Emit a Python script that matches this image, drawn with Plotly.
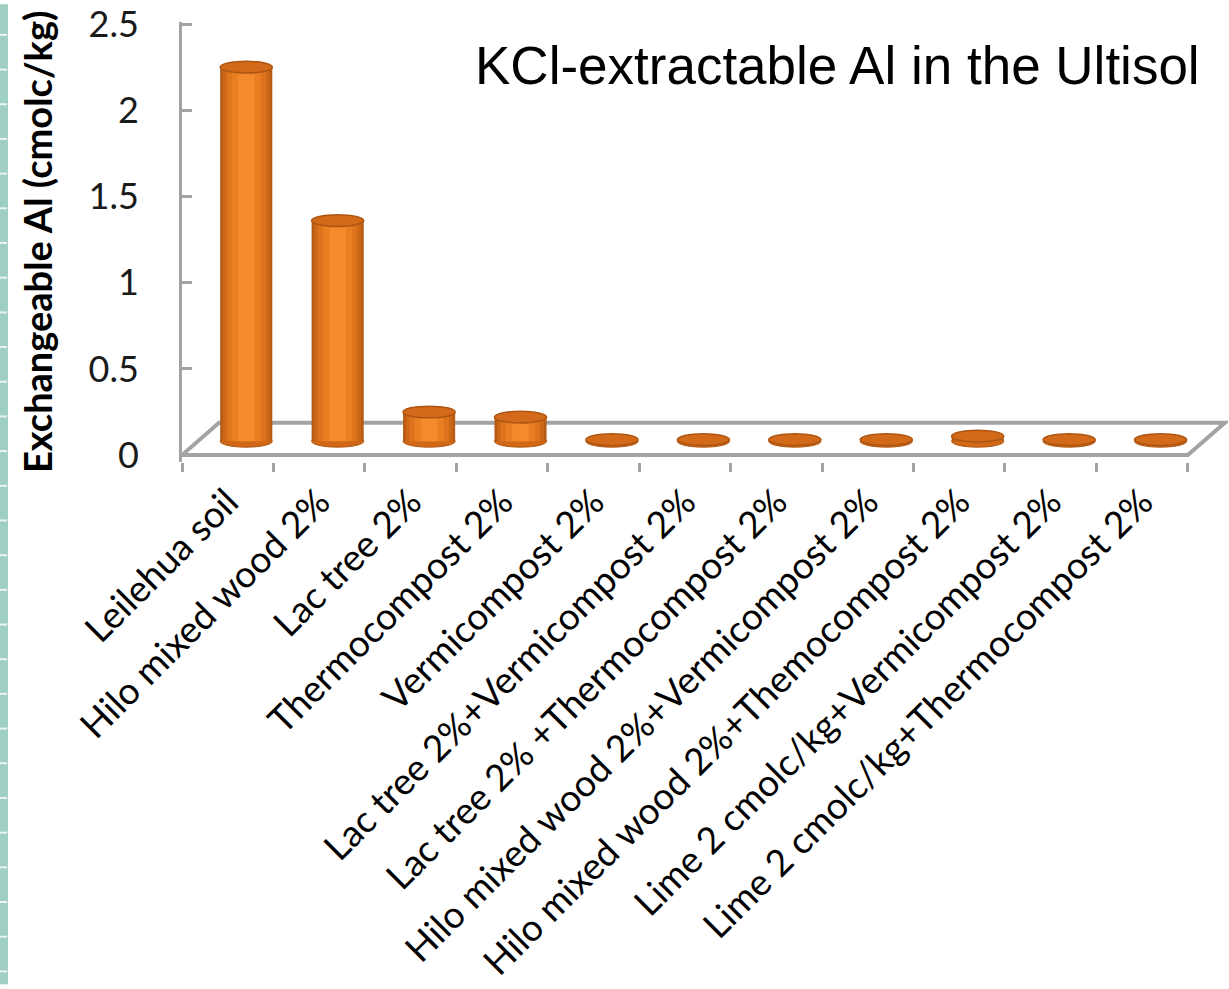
import plotly.graph_objects as go

# ---- data ----
categories = [
    "Leilehua soil",
    "Hilo mixed wood 2%",
    "Lac tree 2%",
    "Thermocompost 2%",
    "Vermicompost 2%",
    "Lac tree 2%+Vermicompost 2%",
    "Lac tree 2% +Thermocompost 2%",
    "Hilo mixed wood 2%+Vermicompost 2%",
    "Hilo mixed wood 2%+Themocompost 2%",
    "Lime 2 cmolc/kg+Vermicompost 2%",
    "Lime 2 cmolc/kg+Thermocompost 2%",
]
exch_al = [2.17, 1.28, 0.17, 0.14, 0.01, 0.01, 0.01, 0.01, 0.03, 0.01, 0.01]
y_ticks = [0, 0.5, 1, 1.5, 2, 2.5]
y_ticklabels = ["0", "0.5", "1", "1.5", "2", "2.5"]

# ---- geometry of the pseudo-3D floor and cylinders ----
FIG_W, FIG_H = 1229, 989
L, T, PW, PH = 182, 18, 1046, 444
X_MAX = 11.44
Y_MIN, Y_MAX = -0.04, 2.512
DX, DY = 0.405, 0.187          # floor depth offset (data units)
BASE = 0.08                     # bar base height at mid-depth
BW = 0.57                       # cylinder width
RY = 0.034                      # cylinder cap half-height

GRAY = "#A3A3A3"
n = len(categories)
bar_x = [i + 0.5 + DX / 2 for i in range(n)]
label_x = [i + 0.5 for i in range(n)]


def px_x(p):
    return (p - L) / PW


def px_y(p):
    return 1 - (p - T) / PH


fig = go.Figure()

# cylinder body: stacked layers from dark rim to light centre
body_layers = [
    (1.00, "#B65A14"),
    (0.90, "#CC6717"),
    (0.76, "#DD741D"),
    (0.56, "#EA7E23"),
    (0.32, "#F48A2B"),
]
for frac, col in body_layers:
    fig.add_trace(go.Bar(
        x=bar_x, y=exch_al, base=BASE, width=BW * frac,
        marker=dict(color=col, line=dict(width=0)),
        hoverinfo="skip", showlegend=False,
    ))

# invisible trace carrying the category label axis
fig.add_trace(go.Scatter(
    x=label_x, y=[0] * n, xaxis="x2", mode="markers",
    marker=dict(opacity=0), hoverinfo="skip", showlegend=False,
))

shapes = []
# teal slide border strip on the far left
shapes.append(dict(type="rect", xref="paper", yref="paper",
                   x0=px_x(0), x1=px_x(8), y0=px_y(FIG_H), y1=px_y(0),
                   fillcolor="#9FCEC3", line=dict(width=0), layer="below"))
for k in range(29):
    yy = 31 + 35 * k
    shapes.append(dict(type="line", xref="paper", yref="paper",
                       x0=px_x(0), x1=px_x(7), y0=px_y(yy), y1=px_y(yy),
                       line=dict(color="#EAF5F2", width=2), layer="below"))

# floor slab
shapes.append(dict(
    type="path", xref="x", yref="y",
    path=f"M 0,0 L {n},0 L {n + DX},{DY} L {DX},{DY} Z",
    fillcolor="white", line=dict(color=GRAY, width=4), layer="below",
))

# bottom caps of the cylinders
for cx in bar_x:
    shapes.append(dict(type="circle", xref="x", yref="y",
                       x0=cx - BW / 2, x1=cx + BW / 2,
                       y0=BASE - RY, y1=BASE + RY,
                       fillcolor="#D06818", line=dict(color="#B0560F", width=1),
                       layer="below"))

# top caps of the cylinders
for cx, v in zip(bar_x, exch_al):
    top = BASE + v
    shapes.append(dict(type="circle", xref="x", yref="y",
                       x0=cx - BW / 2, x1=cx + BW / 2,
                       y0=top - RY, y1=top + RY,
                       fillcolor="#D26A1A", line=dict(color="#AE5512", width=1.5),
                       layer="above"))

annotations = [
    dict(text="KCl-extractable Al in the Ultisol", xref="paper", yref="paper",
         x=px_x(1202), y=px_y(62), xanchor="right", yanchor="middle",
         showarrow=False, font=dict(family="Liberation Sans, Arial", size=53, color="black")),
    dict(text="<b>Exchangeable Al (cmolc/kg)</b>", xref="paper", yref="paper",
         x=px_x(37), y=px_y(240), xanchor="center", yanchor="middle", textangle=-90,
         showarrow=False, font=dict(family="Lato, Noto Sans", size=38, color="black")),
]

fig.update_layout(
    width=FIG_W, height=FIG_H,
    margin=dict(l=L, r=FIG_W - L - PW, t=T, b=FIG_H - T - PH, pad=0),
    paper_bgcolor="white", plot_bgcolor="rgba(0,0,0,0)",
    barmode="overlay", showlegend=False,
    shapes=shapes, annotations=annotations,
    xaxis=dict(range=[0, X_MAX], tickvals=list(range(n + 1)), ticks="outside",
               ticklen=9, tickwidth=3, tickcolor=GRAY, showticklabels=False,
               showline=False, showgrid=False, zeroline=False, fixedrange=True),
    xaxis2=dict(range=[0, X_MAX], overlaying="x", side="bottom", anchor="y",
                tickmode="array", tickvals=label_x, ticktext=categories,
                tickangle=-45, ticks="", showline=False, showgrid=False,
                zeroline=False, ticklabelstandoff=10,
                tickfont=dict(family="Lato, Noto Sans", size=37, color="black")),
    yaxis=dict(range=[Y_MIN, Y_MAX], tickvals=y_ticks, ticktext=y_ticklabels,
               ticks="inside", ticklen=10, tickwidth=3, tickcolor=GRAY,
               showline=True, linewidth=3, linecolor=GRAY,
               showgrid=False, zeroline=False, ticklabelstandoff=33,
               ticklabeloverflow="allow",
               tickfont=dict(family="Lato, Noto Sans", size=36, color="#1a1a1a")),
)

fig.write_html("out.html")
